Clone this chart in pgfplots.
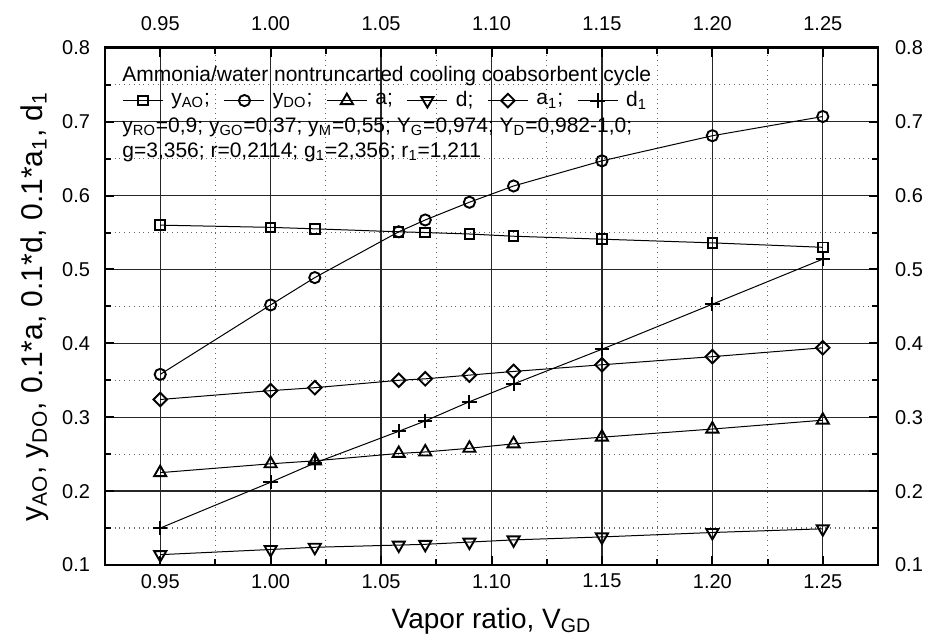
\documentclass[border=0pt]{standalone}
\usepackage{fontspec}
\setmainfont{Liberation Sans}
\usepackage{pgfplots}
\pgfplotsset{compat=1.18}

\pgfplotstableread{
x     yAO   yDO   a     d     aone  done
0.95  0.560 0.358 0.225 0.114 0.324 0.150
1.00  0.557 0.452 0.237 0.121 0.336 0.212
1.02  0.555 0.489 0.241 0.124 0.340 0.238
1.058 0.551 0.551 0.251 0.127 0.350 0.281
1.07  0.550 0.567 0.253 0.128 0.352 0.295
1.09  0.548 0.591 0.258 0.131 0.357 0.321
1.11  0.545 0.613 0.264 0.134 0.362 0.345
1.15  0.541 0.647 0.273 0.138 0.371 0.392
1.20  0.536 0.681 0.284 0.144 0.382 0.453
1.25  0.530 0.707 0.296 0.149 0.394 0.514
}\datatable

\tikzset{
  mk/.style={fill=white, line width=0.95pt, solid, #1},
  mk/.default={},
}
\pgfplotsset{
  common/.style={
    width=386.5pt, height=258.6pt, scale only axis,
    at={(0,0)}, anchor=south west,
    xmin=0.925, xmax=1.275, ymin=0.1, ymax=0.8,
    xtick={0.95,1.00,...,1.26}, ytick={0.1,0.2,...,0.81},
    minor x tick num=1, minor y tick num=1,
    tick align=inside,
    major tick length=4.5pt, minor tick length=3pt,
    every tick/.style={black, line width=1pt},
    ticklabel style={font=\fontsize{10}{11}\selectfont},
    /pgf/number format/assume math mode=true,
    xticklabel style={/pgf/number format/.cd, fixed, fixed zerofill, precision=2},
    yticklabel style={/pgf/number format/.cd, fixed, fixed zerofill, precision=1},
  },
  pl/.style={black, line width=0.5pt},
}

\begin{document}
\begin{tikzpicture}
\useasboundingbox (-52.5pt,-36.5pt) rectangle (410pt,282.5pt);
\begin{axis}[
  common,
  axis line style={line width=1.4pt},
  grid=both,
  major grid style={black!85, line width=0.7pt},
  minor grid style={black!60, dotted, line width=0.6pt},
  xticklabel shift=1pt,
  yticklabel shift=4pt,
  xlabel={Vapor ratio, V\textsubscript{GD}},
  ylabel={y\textsubscript{AO}, y\textsubscript{DO}, 0.1*a, 0.1*d, 0.1*a\textsubscript{1}, d\textsubscript{1}},
  xlabel style={font=\fontsize{14}{16}\selectfont},
  ylabel style={font=\fontsize{15}{17}\selectfont},
  xlabel shift=3pt,
  ylabel shift=0pt,
  legend columns=-1,
  legend cell align=left,
  legend image code/.code={\draw[mark repeat=2, mark phase=2, #1]
    plot coordinates {(0pt,0pt) (10pt,0pt) (20pt,0pt)};},
  legend style={draw=none, fill=none, at={(axis description cs:0.022,0.898)}, anchor=west,
    font=\fontsize{10.5}{12}\selectfont, inner sep=0pt,
    /tikz/every odd column/.append style={column sep=2pt},
    /tikz/every even column/.append style={column sep=5pt}},
  clip=false,
]
\addplot[pl, mark=square, mark size=2.4pt, mark options={mk}] table[x=x, y=yAO] {\datatable};
\addlegendentry{y\textsubscript{AO};}
\addplot[pl, mark=o, mark size=2.8pt, mark options={mk}] table[x=x, y=yDO] {\datatable};
\addlegendentry{y\textsubscript{DO};}
\addplot[pl, mark=triangle, mark size=3.5pt, mark options={mk}] table[x=x, y=a] {\datatable};
\addlegendentry{a;}
\addplot[pl, mark=triangle, mark size=3.5pt, mark options={mk={rotate=180}}] table[x=x, y=d] {\datatable};
\addlegendentry{d;}
\addplot[pl, mark=square, mark size=2.4pt, mark options={mk={rotate=45}}] table[x=x, y=aone] {\datatable};
\addlegendentry{a\textsubscript{1};}
\addplot[pl, mark=+, mark size=3.6pt, mark options={mk}] table[x=x, y=done] {\datatable};
\addlegendentry{d\textsubscript{1}}

\node[anchor=west, font=\fontsize{10.5}{12}\selectfont, inner sep=0pt] at (axis description cs:0.022,0.946)
  {Ammonia/water nontruncarted cooling coabsorbent cycle};
\node[anchor=west, font=\fontsize{10.5}{12}\selectfont, inner sep=0pt] at (axis description cs:0.022,0.846)
  {y\textsubscript{RO}=0,9; y\textsubscript{GO}=0,37; y\textsubscript{M}=0,55; Y\textsubscript{G}=0,974; Y\textsubscript{D}=0,982-1,0;};
\node[anchor=west, font=\fontsize{10.5}{12}\selectfont, inner sep=0pt] at (axis description cs:0.022,0.798)
  {g=3,356; r=0,2114; g\textsubscript{1}=2,356; r\textsubscript{1}=1,211};
\end{axis}
\begin{axis}[
  common,
  axis line style={draw=none},
  major tick length=0pt, minor tick length=0pt,
  xticklabel pos=upper, yticklabel pos=right,
  xticklabel shift=5pt, yticklabel shift=5pt,
]
\addplot[draw=none] coordinates {(1.0,0.5)};
\end{axis}
\end{tikzpicture}
\end{document}
